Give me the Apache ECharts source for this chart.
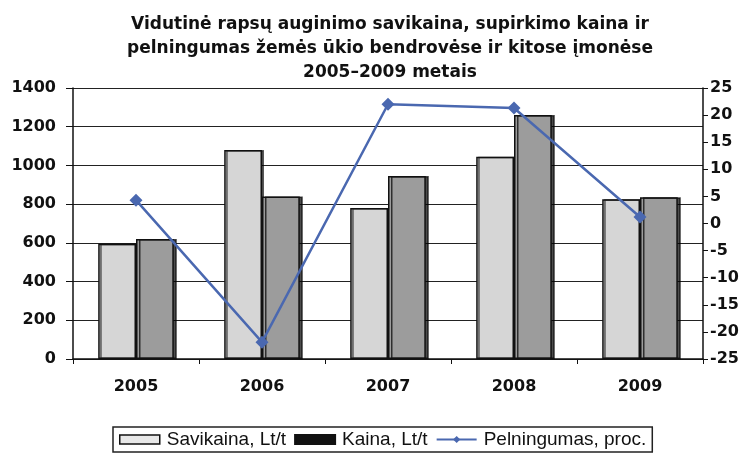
<!DOCTYPE html>
<html><head><meta charset="utf-8">
<script src="https://cdn.jsdelivr.net/npm/echarts@6/dist/echarts.min.js"></script>
<style>html,body{margin:0;padding:0;background:#fff}#c{width:750px;height:456px}</style>
</head><body><div id="c"></div>
<script>
const years = ['2005','2006','2007','2008','2009'];
const savikaina = [595, 1080, 780, 1045, 825];
const kaina = [620, 840, 945, 1260, 835];
const pelningumas = [4.3, -21.9, 22.0, 21.3, 1.2];
const leftTicks = {min:0, max:1400, interval:200};
const rightTicks = {min:-25, max:25, interval:5};
const titleText = 'Vidutinė rapsų auginimo savikaina, supirkimo kaina ir\npelningumas žemės ūkio bendrovėse ir kitose įmonėse\n2005–2009 metais';

const bold = 'DejaVu Sans, sans-serif';
const reg = 'Liberation Sans, Arial, sans-serif';
const chart = echarts.init(document.getElementById('c'));
chart.setOption({
  animation:false,
  title:{text:titleText, left:385, textAlign:'center', top:8,
    textStyle:{fontFamily:bold, fontSize:17, fontWeight:'bold', color:'#111', lineHeight:24}},
  grid:{left:73, right:47, top:88, bottom:97},
  legend:{top:427, left:113, borderColor:'#222', borderWidth:1.5, padding:[3,6,3,6],
    itemGap:8, itemWidth:40, itemHeight:9,
    textStyle:{fontFamily:reg, fontSize:19, color:'#111', padding:[0,0,0,2]},
    data:[
      {name:'Savikaina, Lt/t', icon:'rect', itemStyle:{color:'#e8e8e8', borderColor:'#111', borderWidth:1.5}},
      {name:'Kaina, Lt/t', icon:'rect', itemStyle:{color:'#111', borderColor:'#111'}},
      {name:'Pelningumas, proc.'}
    ]},
  xAxis:{type:'category', data:years,
    axisLine:{lineStyle:{color:'#111', width:1.5}},
    axisTick:{show:true, inside:false, length:5, lineStyle:{color:'#111'}},
    axisLabel:{fontFamily:bold, fontSize:16, fontWeight:'bold', color:'#111', margin:20}},
  yAxis:[
    {type:'value', min:leftTicks.min, max:leftTicks.max, interval:leftTicks.interval,
     axisLine:{show:true, lineStyle:{color:'#111', width:1.5}},
     axisTick:{show:true, length:7, lineStyle:{color:'#111'}},
     axisLabel:{fontFamily:bold, fontSize:16, fontWeight:'bold', color:'#111', margin:17,
       formatter:v=>String(v)},
     splitLine:{lineStyle:{color:'#222', width:1}}},
    {type:'value', position:'right', min:rightTicks.min, max:rightTicks.max, interval:rightTicks.interval,
     axisLine:{show:true, lineStyle:{color:'#111', width:1.5}},
     axisTick:{show:true, length:5, lineStyle:{color:'#111'}},
     axisLabel:{fontFamily:bold, fontSize:16, fontWeight:'bold', color:'#111', margin:7},
     splitLine:{show:false}}
  ],
  series:[
    {name:'Savikaina, Lt/t', type:'bar', data:savikaina, barGap:'0%', barCategoryGap:'40%',
     itemStyle:{color:'#d6d6d6', borderColor:'#111', borderWidth:1.5,
       shadowColor:'rgba(0,0,0,0.6)', shadowOffsetX:2, shadowOffsetY:0, shadowBlur:0}},
    {name:'Kaina, Lt/t', type:'bar', data:kaina,
     itemStyle:{color:'#9c9c9c', borderColor:'#111', borderWidth:1.5,
       shadowColor:'rgba(0,0,0,0.7)', shadowOffsetX:3, shadowOffsetY:0, shadowBlur:0}},
    {name:'Pelningumas, proc.', type:'line', yAxisIndex:1, data:pelningumas,
     symbol:'diamond', symbolSize:13, z:5,
     lineStyle:{color:'#4a68b0', width:2.5},
     itemStyle:{color:'#4a68b0'}}
  ]
});
</script></body></html>
